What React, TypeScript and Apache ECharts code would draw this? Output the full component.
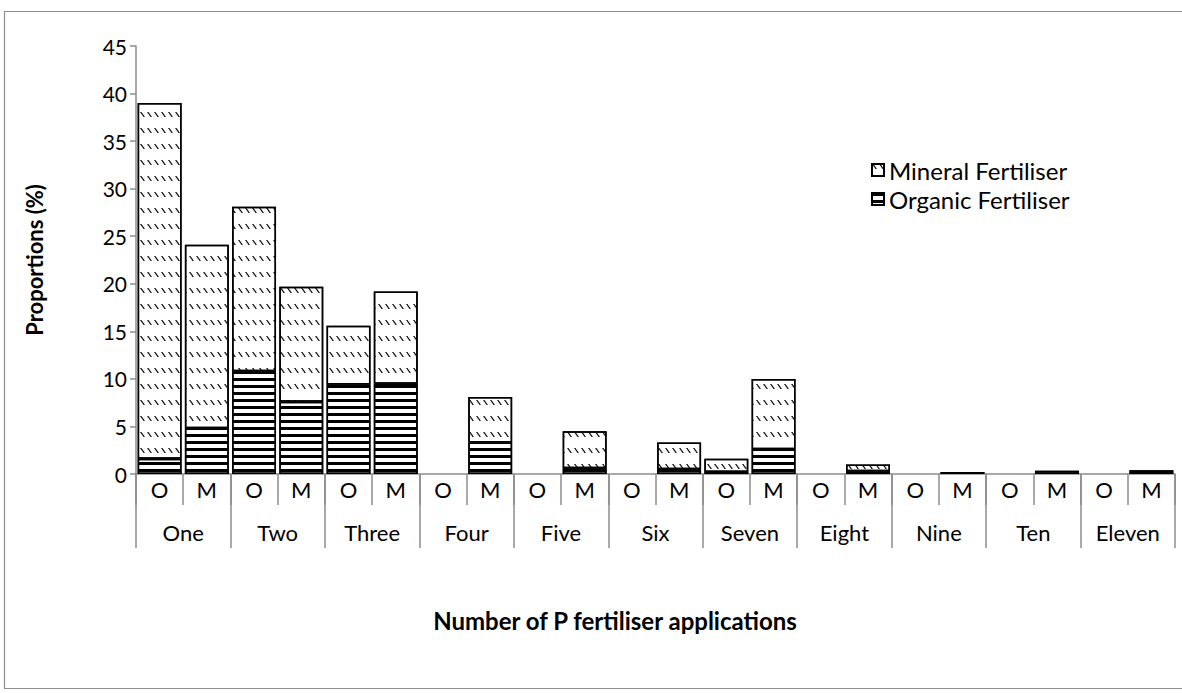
import React, { useEffect, useRef } from "react";
import * as echarts from "echarts";

const subLabels = ["O", "M", "O", "M", "O", "M", "O", "M", "O", "M", "O", "M", "O", "M", "O", "M", "O", "M", "O", "M", "O", "M"];
const groupLabels = ["One", "Two", "Three", "Four", "Five", "Six", "Seven", "Eight", "Nine", "Ten", "Eleven"];
const organic = [1.6, 4.8, 10.8, 7.6, 9.4, 9.5, null, 3.3, null, 0.6, null, 0.5, 0.2, 2.6, null, 0.3, null, 0.2, null, null, null, 0.2];
const mineral = [37.4, 19.3, 17.3, 12.1, 6.2, 9.7, null, 4.8, null, 3.9, null, 2.8, 1.4, 7.4, null, 0.7, null, null, null, 0.35, null, 0.2];
const yTicks = { min: 0, max: 45, interval: 5 };

const FONT = "Lato, 'Open Sans', sans-serif";

export default function App() {
  const ref = useRef<HTMLDivElement>(null);
  useEffect(() => {
    if (!ref.current) return;
    const chart = echarts.init(ref.current, null, { renderer: "svg" });
    const mineralDecal = {
      symbol: "path://M0,0 L3,0 L10,10 L7,10 Z",
      symbolSize: 1,
      dashArrayX: [5, 2],
      dashArrayY: [5, 11],
      rotation: 0,
      color: "#111",
      backgroundColor: "#fff",
    };
    const organicDecal = {
      symbol: "rect",
      symbolSize: 1,
      dashArrayX: [1, 0],
      dashArrayY: [3, 4],
      rotation: 0,
      color: "#000",
      backgroundColor: "#fff",
    };
    chart.setOption({
      animation: false,
      textStyle: { fontFamily: FONT },
      grid: { left: 136, right: 7, top: 46, bottom: 219 },
      legend: {
        orient: "vertical",
        left: 866,
        top: 153,
        itemGap: 5,
        itemWidth: 12,
        itemHeight: 12,
        icon: "rect",
        data: ["Mineral Fertiliser", "Organic Fertiliser"],
        textStyle: { fontFamily: FONT, fontSize: 24, color: "#000" },
      },
      xAxis: [
        {
          type: "category",
          data: subLabels,
          position: "bottom",
          axisLine: { show: true, lineStyle: { color: "#8c8c8c", width: 1.5 } },
          axisTick: { show: true, interval: 0, length: 31, lineStyle: { color: "#8c8c8c", width: 1.5 } },
          axisLabel: { interval: 0, margin: 4, fontSize: 22, color: "#000", fontFamily: FONT },
        },
        {
          type: "category",
          data: groupLabels,
          position: "bottom",
          axisLine: { show: false },
          axisTick: { show: true, interval: 0, length: 74, lineStyle: { color: "#8c8c8c", width: 1.5 } },
          axisLabel: { interval: 0, margin: 47, fontSize: 22, color: "#000", fontFamily: FONT },
        },
      ],
      yAxis: {
        type: "value",
        min: yTicks.min,
        max: yTicks.max,
        interval: yTicks.interval,
        splitLine: { show: false },
        axisLine: { show: true, lineStyle: { color: "#8c8c8c", width: 1.5 } },
        axisTick: { show: true, length: 6, lineStyle: { color: "#8c8c8c", width: 1.5 } },
        axisLabel: { fontSize: 21, color: "#000", margin: 9, fontFamily: FONT },
      },
      series: [
        {
          name: "Organic Fertiliser",
          type: "bar",
          stack: "total",
          xAxisIndex: 0,
          barCategoryGap: "7%",
          data: organic,
          itemStyle: { color: "#fff", borderColor: "#000", borderWidth: 1.5, decal: organicDecal },
        },
        {
          name: "Mineral Fertiliser",
          type: "bar",
          stack: "total",
          xAxisIndex: 0,
          barCategoryGap: "7%",
          data: mineral,
          itemStyle: { color: "#fff", borderColor: "#000", borderWidth: 1.5, decal: mineralDecal },
        },
      ],
      graphic: [
        {
          type: "rect",
          shape: { x: 4.5, y: 11.5, width: 1200, height: 677 },
          style: { fill: "none", stroke: "#8c8c8c", lineWidth: 1.2 },
          silent: true,
        },
        {
          type: "text",
          x: 34,
          y: 260,
          rotation: Math.PI / 2,
          style: {
            text: "Proportions (%)",
            font: `bold 22px ${FONT}`,
            fill: "#000",
            textAlign: "center",
            textVerticalAlign: "middle",
          },
        },
        {
          type: "text",
          x: 615,
          y: 620,
          style: {
            text: "Number of P fertiliser applications",
            font: `bold 24px ${FONT}`,
            fill: "#000",
            textAlign: "center",
            textVerticalAlign: "middle",
          },
        },
      ],
    });
    return () => chart.dispose();
  }, []);
  return (
    <div
      ref={ref}
      style={{ position: "fixed", left: 0, top: 0, width: 1182, height: 693, background: "#fff" }}
    />
  );
}
